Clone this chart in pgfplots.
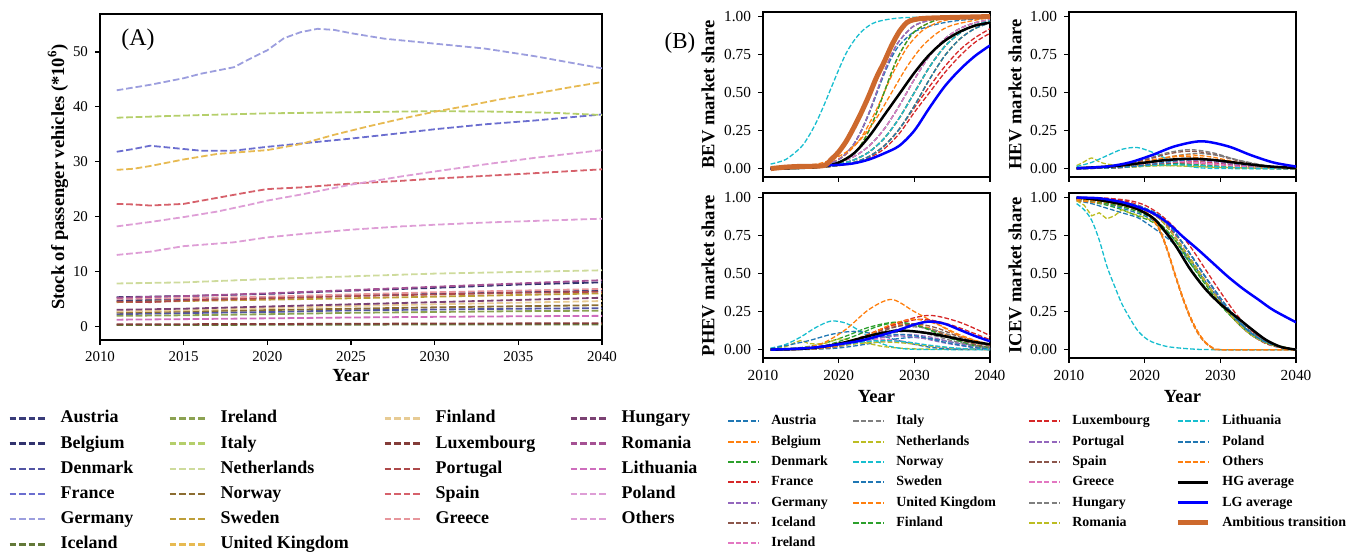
\documentclass[border=0pt]{standalone}
\usepackage{fontspec}
\setmainfont{Liberation Serif}
\usepackage{pgfplots}
\pgfplotsset{compat=1.18}
% panel A colours (tab20b sampled)
\definecolor{cA1}{HTML}{393B79}
\definecolor{cA2}{HTML}{31336E}
\definecolor{cA3}{HTML}{5254A3}
\definecolor{cA4}{HTML}{6B6ECF}
\definecolor{cA5}{HTML}{9C9EDE}
\definecolor{cA6}{HTML}{637939}
\definecolor{cA7}{HTML}{8CA252}
\definecolor{cA8}{HTML}{B5CF6B}
\definecolor{cA9}{HTML}{CEDB9C}
\definecolor{cA10}{HTML}{8C6D31}
\definecolor{cA11}{HTML}{BD9E39}
\definecolor{cA12}{HTML}{E7BA52}
\definecolor{cA13}{HTML}{E7CB94}
\definecolor{cA14}{HTML}{843C39}
\definecolor{cA15}{HTML}{AD494A}
\definecolor{cA16}{HTML}{D6616B}
\definecolor{cA17}{HTML}{E7969C}
\definecolor{cA18}{HTML}{7B4173}
\definecolor{cA19}{HTML}{A55194}
\definecolor{cA20}{HTML}{CE6DBD}
\definecolor{cA21}{HTML}{DE9ED6}
\definecolor{cA22}{HTML}{DE9ED6}
% panel B colours (tab10)
\definecolor{tBlue}{HTML}{1F77B4}
\definecolor{tOrange}{HTML}{FF7F0E}
\definecolor{tGreen}{HTML}{2CA02C}
\definecolor{tRed}{HTML}{D62728}
\definecolor{tPurple}{HTML}{9467BD}
\definecolor{tBrown}{HTML}{8C564B}
\definecolor{tPink}{HTML}{E377C2}
\definecolor{tGray}{HTML}{7F7F7F}
\definecolor{tOlive}{HTML}{BCBD22}
\definecolor{tCyan}{HTML}{17BECF}
\definecolor{amb}{RGB}{205,105,45}
\tikzset{
 dA/.style={line width=0.9bp, dash pattern=on 3.3bp off 1.45bp},
 dB/.style={line width=0.65bp, dash pattern=on 2.4bp off 1.05bp},
 lA/.style={line width=1.15bp, dash pattern=on 3.3bp off 1.5bp},
 lB/.style={line width=1bp, dash pattern=on 2.6bp off 1.1bp},
 hg/.style={black, line width=1.25bp, solid},
 lg/.style={blue, line width=1.25bp, solid},
 am/.style={amb, line width=2.5bp, solid},
}
\newcommand\pa[2]{\addplot[dA,#1] coordinates {#2};}
\newcommand\pb[2]{\addplot[dB,smooth,tension=0.5,#1] coordinates {#2};}
\pgfplotsset{
 common/.style={scale only axis, tick pos=left, tick align=outside, major tick length=2.5bp,
   /pgf/number format/1000 sep={}, /pgf/number format/assume math mode=true,
   clip mode=individual, label style={font=\bfseries\fontsize{9.3}{10}\selectfont}},
 Bax/.style={common, width=113.5bp, height=82.5bp, xmin=2010, xmax=2040, ymin=-0.055, ymax=1.03,
   xtick={2010,2020,2030,2040}, ytick={0,0.25,0.5,0.75,1},
   yticklabel style={/pgf/number format/.cd, fixed, fixed zerofill, precision=2},
   tick label style={font=\fontsize{7.7}{8}\selectfont},
   axis line style={line width=0.7bp}, tick style={line width=0.6bp, black}},
 legA/.style={hide axis, scale only axis, width=5bp, height=5bp, xmin=0, xmax=1, ymin=0, ymax=1,
   anchor=north west, legend cell align=left,
   legend style={at={(0,1)}, anchor=north west, draw=none, fill=none, inner sep=0pt,
     row sep=4.5bp, column sep=6.5bp, font=\bfseries\fontsize{9}{10}\selectfont,
     nodes={inner sep=0pt, text height=6.3bp, text depth=1.8bp}},
   legend image code/.code={\draw[##1] (0bp,0bp) -- (18.5bp,0bp);}},
 legB/.style={hide axis, scale only axis, width=5bp, height=5bp, xmin=0, xmax=1, ymin=0, ymax=1,
   anchor=north west, legend cell align=left,
   legend style={at={(0,1)}, anchor=north west, draw=none, fill=none, inner sep=0pt,
     row sep=3.65bp, column sep=6bp, font=\bfseries\fontsize{7}{8}\selectfont,
     nodes={inner sep=0pt, text height=5bp, text depth=1.5bp}},
   legend image code/.code={\draw[##1] (0bp,0bp) -- (15bp,0bp);}},
}
\begin{document}
\begin{tikzpicture}
\path[use as bounding box] (0,0) rectangle (678bp,276.5bp);

% ================= Panel A =================
\begin{axis}[common, at={(50bp,106.5bp)}, anchor=south west, width=251bp, height=163bp,
  xmin=2010, xmax=2040, ymin=-2.5, ymax=56.9,
  xtick={2010,2015,2020,2025,2030,2035,2040}, ytick={0,10,20,30,40,50},
  tick label style={font=\fontsize{7.5}{8}\selectfont},
  axis line style={line width=1bp}, tick style={line width=0.7bp, black},
  xlabel={Year}, ylabel={Stock of passenger vehicles (*10\textsuperscript{6})},
  xlabel style={at={(axis description cs:0.5,-0.110)}, anchor=center},
  ylabel style={at={(axis description cs:-0.0837,0.5)}, anchor=center}]
\pa{cA1}{(2011,4.7)(2015,4.9)(2020,5.2)(2025,5.6)(2030,5.9)(2035,6.2)(2040,6.5)}
\pa{cA2}{(2011,5.3)(2015,5.5)(2020,5.9)(2025,6.5)(2030,7.0)(2035,7.6)(2040,8.0)}
\pa{cA3}{(2011,2.2)(2015,2.4)(2020,2.6)(2025,2.9)(2030,3.05)(2035,3.2)(2040,3.3)}
\pa{cA4}{(2011,31.8)(2012,32.3)(2013,32.9)(2014,32.6)(2016,32.0)(2018,32.0)(2020,32.7)(2022,33.3)(2025,34.2)(2028,35.2)(2030,35.9)(2033,36.8)(2036,37.5)(2040,38.6)}
\pa{cA5}{(2011,43.0)(2013,44.0)(2015,45.2)(2016,46.0)(2018,47.2)(2019,48.8)(2020,50.3)(2021,52.5)(2022,53.6)(2023,54.2)(2024,54.0)(2025,53.4)(2027,52.4)(2030,51.5)(2033,50.6)(2036,49.2)(2040,47.0)}
\pa{cA6}{(2011,0.22)(2020,0.27)(2030,0.32)(2040,0.35)}
\pa{cA7}{(2011,1.9)(2015,2.0)(2020,2.2)(2025,2.45)(2030,2.6)(2035,2.75)(2040,2.85)}
\pa{cA8}{(2011,38.0)(2015,38.4)(2020,38.8)(2025,39.0)(2030,39.2)(2034,39.1)(2037,38.9)(2040,38.5)}
\pa{cA9}{(2011,7.8)(2015,8.0)(2020,8.6)(2025,9.1)(2030,9.6)(2035,9.9)(2040,10.2)}
\pa{cA10}{(2011,2.5)(2015,2.7)(2020,2.95)(2025,3.2)(2030,3.45)(2035,3.65)(2040,3.85)}
\pa{cA11}{(2011,4.4)(2015,4.6)(2020,4.85)(2025,5.1)(2030,5.4)(2035,5.7)(2040,6.0)}
\pa{cA12}{(2011,28.5)(2012,28.7)(2013,29.2)(2015,30.4)(2017,31.4)(2020,32.1)(2022,33.2)(2024,34.9)(2026,36.4)(2028,37.8)(2030,39.1)(2032,40.2)(2034,41.4)(2036,42.4)(2038,43.5)(2040,44.5)}
\pa{cA13}{(2011,2.7)(2015,2.9)(2020,3.3)(2025,3.7)(2030,4.0)(2035,4.3)(2040,4.6)}
\pa{cA14}{(2011,0.35)(2020,0.42)(2030,0.5)(2040,0.55)}
\pa{cA15}{(2011,4.5)(2013,4.4)(2015,4.7)(2020,5.1)(2025,5.5)(2030,5.8)(2035,6.1)(2040,6.3)}
\pa{cA16}{(2011,22.3)(2012,22.2)(2013,22.0)(2015,22.3)(2017,23.4)(2019,24.5)(2020,25.0)(2022,25.3)(2025,26.0)(2028,26.5)(2030,26.9)(2033,27.4)(2036,27.9)(2040,28.6)}
\pa{cA17}{(2011,5.0)(2015,5.1)(2020,5.4)(2025,5.8)(2030,6.2)(2035,6.5)(2040,6.8)}
\pa{cA18}{(2011,3.0)(2015,3.2)(2020,3.6)(2025,4.0)(2030,4.4)(2035,4.8)(2040,5.2)}
\pa{cA19}{(2011,5.2)(2015,5.5)(2020,6.0)(2025,6.6)(2030,7.2)(2035,7.8)(2040,8.4)}
\pa{cA20}{(2011,1.2)(2015,1.3)(2020,1.45)(2025,1.6)(2030,1.72)(2035,1.82)(2040,1.9)}
\pa{cA21}{(2011,18.2)(2013,19.0)(2015,19.9)(2017,20.9)(2019,22.2)(2020,22.9)(2022,24.0)(2025,25.8)(2028,27.3)(2030,28.2)(2033,29.5)(2036,30.7)(2040,32.1)}
\pa{cA22}{(2011,13.0)(2013,13.6)(2015,14.6)(2018,15.3)(2020,16.2)(2022,16.8)(2025,17.6)(2028,18.2)(2030,18.5)(2033,18.9)(2036,19.2)(2040,19.6)}
\node[font=\fontsize{12}{14}\selectfont] at (axis description cs:0.0757,0.92) {(A)};
\end{axis}

% ================= BEV =================
\begin{axis}[Bax, at={(381.5bp,188bp)}, anchor=south west, xticklabels={,,,},
  ylabel={BEV market share}, ylabel style={at={(axis description cs:-0.242,0.5)}, anchor=center}]
\pb{tBlue}{(2011,0.0018)(2015,0.0074)(2018,0.021)(2020,0.041)(2022,0.079)(2024,0.148)(2026,0.259)(2028,0.413)(2030,0.587)(2032,0.741)(2034,0.852)(2036,0.921)(2038,0.959)(2040,0.979)}
\pb{tOrange}{(2011,0)(2015,0.002)(2018,0.012)(2020,0.036)(2021,0.06)(2022,0.1)(2023,0.161)(2024,0.25)(2025,0.366)(2026,0.5)(2027,0.634)(2028,0.75)(2030,0.9)(2033,0.979)(2036,0.996)(2040,1)}
\pb{tGreen}{(2011,0)(2015,0.004)(2018,0.021)(2020,0.06)(2021,0.1)(2022,0.161)(2023,0.25)(2024,0.366)(2025,0.5)(2026,0.634)(2027,0.75)(2028,0.839)(2030,0.94)(2033,0.988)(2036,0.998)(2040,1)}
\pb{tRed}{(2011,0)(2015,0.005)(2018,0.01)(2020,0.02)(2022,0.035)(2024,0.07)(2026,0.13)(2028,0.23)(2030,0.37)(2032,0.5)(2034,0.63)(2036,0.74)(2038,0.83)(2040,0.89)}
\pb{tPurple}{(2011,0.0013)(2015,0.0052)(2018,0.0148)(2020,0.029)(2022,0.057)(2024,0.109)(2026,0.198)(2028,0.332)(2030,0.5)(2032,0.668)(2034,0.802)(2036,0.891)(2038,0.943)(2040,0.971)}
\pb{tBrown}{(2011,0.0013)(2015,0.0052)(2018,0.0148)(2020,0.029)(2022,0.057)(2024,0.109)(2026,0.198)(2028,0.332)(2030,0.5)(2032,0.668)(2034,0.802)(2036,0.891)(2038,0.943)(2040,0.971)}
\pb{tPink}{(2011,0)(2015,0.004)(2018,0.021)(2020,0.06)(2021,0.1)(2022,0.161)(2023,0.25)(2024,0.366)(2025,0.5)(2026,0.634)(2027,0.75)(2028,0.839)(2030,0.94)(2033,0.988)(2036,0.998)(2040,1)}
\pb{tGray}{(2011,0.0018)(2015,0.0074)(2018,0.021)(2020,0.041)(2022,0.079)(2024,0.148)(2026,0.259)(2028,0.413)(2030,0.587)(2032,0.741)(2034,0.852)(2036,0.921)(2038,0.959)(2040,0.979)}
\pb{tOlive}{(2011,0.0013)(2015,0.0052)(2018,0.0148)(2020,0.029)(2022,0.057)(2024,0.109)(2026,0.198)(2028,0.332)(2030,0.5)(2032,0.668)(2034,0.802)(2036,0.891)(2038,0.943)(2040,0.971)}
\pb{tCyan}{(2011,0.03)(2013,0.06)(2015,0.14)(2016,0.21)(2017,0.3)(2018,0.41)(2019,0.53)(2020,0.65)(2021,0.76)(2022,0.84)(2023,0.9)(2024,0.94)(2025,0.965)(2027,0.985)(2030,0.995)(2040,1)}
\pb{tBlue}{(2011,0)(2015,0.004)(2018,0.021)(2020,0.06)(2021,0.1)(2022,0.16)(2023,0.25)(2024,0.36)(2025,0.49)(2026,0.62)(2027,0.73)(2028,0.81)(2030,0.9)(2033,0.95)(2036,0.975)(2040,0.99)}
\pb{tOrange}{(2011,0.0012)(2014,0.0045)(2017,0.017)(2019,0.041)(2021,0.095)(2023,0.206)(2025,0.389)(2027,0.611)(2029,0.794)(2031,0.905)(2033,0.959)(2035,0.983)(2039,0.997)(2040,0.998)}
\pb{tGreen}{(2011,0)(2015,0.002)(2018,0.012)(2020,0.036)(2021,0.06)(2022,0.1)(2023,0.161)(2024,0.25)(2025,0.366)(2026,0.5)(2027,0.634)(2028,0.75)(2030,0.9)(2033,0.979)(2036,0.996)(2040,1)}
\pb{tRed}{(2011,0)(2015,0.005)(2018,0.01)(2020,0.02)(2022,0.04)(2024,0.08)(2026,0.15)(2028,0.26)(2030,0.4)(2032,0.54)(2034,0.67)(2036,0.78)(2038,0.86)(2040,0.92)}
\pb{tPurple}{(2011,0)(2015,0.004)(2018,0.021)(2020,0.06)(2021,0.1)(2022,0.161)(2023,0.25)(2024,0.366)(2025,0.5)(2026,0.634)(2027,0.75)(2028,0.839)(2030,0.94)(2033,0.988)(2036,0.998)(2040,1)}
\pb{tBrown}{(2011,0.0009)(2015,0.0037)(2018,0.0105)(2020,0.021)(2022,0.041)(2024,0.079)(2026,0.148)(2028,0.259)(2030,0.413)(2032,0.587)(2034,0.741)(2036,0.852)(2038,0.921)(2040,0.959)}
\pb{tPink}{(2011,0.0018)(2015,0.0074)(2018,0.021)(2020,0.041)(2022,0.079)(2024,0.148)(2026,0.259)(2028,0.413)(2030,0.587)(2032,0.741)(2034,0.852)(2036,0.921)(2038,0.959)(2040,0.979)}
\pb{tGray}{(2011,0.0013)(2015,0.0052)(2018,0.0148)(2020,0.029)(2022,0.057)(2024,0.109)(2026,0.198)(2028,0.332)(2030,0.5)(2032,0.668)(2034,0.802)(2036,0.891)(2038,0.943)(2040,0.971)}
\pb{tOlive}{(2011,0.0009)(2015,0.0037)(2018,0.0105)(2020,0.021)(2022,0.041)(2024,0.079)(2026,0.148)(2028,0.259)(2030,0.413)(2032,0.587)(2034,0.741)(2036,0.852)(2038,0.921)(2040,0.959)}
\pb{tCyan}{(2011,0.0013)(2015,0.0052)(2018,0.0148)(2020,0.029)(2022,0.057)(2024,0.109)(2026,0.198)(2028,0.332)(2030,0.5)(2032,0.668)(2034,0.802)(2036,0.891)(2038,0.943)(2040,0.971)}
\pb{tBlue}{(2011,0.0009)(2015,0.0037)(2018,0.0105)(2020,0.021)(2022,0.041)(2024,0.079)(2026,0.148)(2028,0.259)(2030,0.413)(2032,0.587)(2034,0.741)(2036,0.852)(2038,0.921)(2040,0.959)}
\pb{tOrange}{(2011,0.0037)(2014,0.0105)(2017,0.029)(2019,0.057)(2021,0.109)(2023,0.198)(2025,0.332)(2027,0.5)(2029,0.668)(2031,0.802)(2033,0.891)(2035,0.943)(2039,0.985)(2040,0.99)}
\addplot[hg,smooth,tension=0.5] coordinates {(2011,0)(2014,0.003)(2016,0.007)(2018,0.015)(2020,0.04)(2022,0.1)(2024,0.21)(2026,0.35)(2028,0.49)(2030,0.63)(2032,0.75)(2034,0.84)(2036,0.9)(2038,0.94)(2040,0.96)};
\addplot[lg,smooth,tension=0.5] coordinates {(2011,0)(2013,0.005)(2015,0.015)(2018,0.022)(2020,0.025)(2022,0.035)(2024,0.06)(2026,0.1)(2028,0.15)(2030,0.25)(2032,0.4)(2034,0.54)(2036,0.65)(2038,0.74)(2040,0.81)};
\addplot[am,smooth,tension=0.5] coordinates {(2011,0)(2013,0.01)(2015,0.015)(2018,0.02)(2019,0.06)(2020,0.11)(2021,0.18)(2022,0.27)(2023,0.37)(2024,0.48)(2025,0.6)(2026,0.7)(2027,0.81)(2028,0.9)(2029,0.96)(2030,0.98)(2032,0.99)(2040,1)};
\node[font=\fontsize{11.5}{13}\selectfont] at (axis description cs:-0.366,0.812) {(B)};
\end{axis}

% ================= HEV =================
\begin{axis}[Bax, at={(534.5bp,188bp)}, anchor=south west, xticklabels={,,,},
  ylabel={HEV market share}, ylabel style={at={(axis description cs:-0.238,0.5)}, anchor=center}]
\pb{tBlue}{(2011,0.0004)(2016,0.0054)(2020,0.0195)(2023,0.0334)(2026,0.04)(2029,0.0334)(2032,0.0195)(2036,0.0054)(2040,0.0008)}
\pb{tOrange}{(2011,0.0016)(2015,0.0108)(2019,0.039)(2022,0.0668)(2025,0.08)(2028,0.0668)(2031,0.039)(2035,0.0108)(2040,0.0009)}
\pb{tGreen}{(2011,0.0027)(2012,0.004)(2016,0.0146)(2019,0.025)(2022,0.03)(2025,0.025)(2028,0.0146)(2032,0.004)(2036,0.0006)(2040,0)}
\pb{tRed}{(2011,0.0004)(2016,0.0047)(2020,0.017)(2023,0.029)(2026,0.035)(2029,0.029)(2032,0.017)(2036,0.0047)(2040,0.0007)}
\pb{tPurple}{(2011,0.0006)(2016,0.0068)(2020,0.0244)(2023,0.0418)(2026,0.05)(2029,0.0418)(2032,0.0244)(2036,0.0068)(2040,0.001)}
\pb{tBrown}{(2011,0.0007)(2016,0.0081)(2020,0.0292)(2023,0.0501)(2026,0.06)(2029,0.0501)(2032,0.0292)(2036,0.0081)(2040,0.0012)}
\pb{tPink}{(2011,0.0014)(2014,0.0054)(2018,0.0195)(2021,0.0334)(2024,0.04)(2027,0.0334)(2030,0.0195)(2034,0.0054)(2040,0.0002)}
\pb{tGray}{(2011,0.0014)(2016,0.0169)(2020,0.0609)(2023,0.1044)(2026,0.125)(2029,0.1044)(2032,0.0609)(2036,0.0169)(2040,0.0025)}
\pb{tOlive}{(2011,0.02)(2012,0.045)(2013,0.07)(2014,0.045)(2015,0.03)(2017,0.02)(2020,0.02)(2023,0.02)(2026,0.015)(2030,0.008)(2035,0.003)(2040,0.001)}
\pb{tCyan}{(2011,0.014)(2013,0.041)(2015,0.085)(2017,0.127)(2019,0.139)(2021,0.108)(2023,0.062)(2025,0.025)(2027,0.007)(2030,0.0006)(2040,0)}
\pb{tBlue}{(2011,0.0031)(2012,0.0047)(2016,0.017)(2019,0.029)(2022,0.035)(2025,0.029)(2028,0.017)(2032,0.0047)(2036,0.0007)(2040,0)}
\pb{tOrange}{(2011,0.001)(2015,0.0068)(2019,0.0244)(2022,0.0418)(2025,0.05)(2028,0.0418)(2031,0.0244)(2035,0.0068)(2040,0.0006)}
\pb{tGreen}{(2011,0.001)(2014,0.004)(2018,0.0146)(2021,0.025)(2024,0.03)(2027,0.025)(2030,0.0146)(2034,0.004)(2040,0.0002)}
\pb{tRed}{(2011,0.0005)(2016,0.0061)(2020,0.0219)(2023,0.0376)(2026,0.045)(2029,0.0376)(2032,0.0219)(2036,0.0061)(2040,0.0009)}
\pb{tPurple}{(2011,0.0006)(2016,0.0074)(2020,0.0268)(2023,0.0459)(2026,0.055)(2029,0.0459)(2032,0.0268)(2036,0.0074)(2040,0.0011)}
\pb{tBrown}{(2011,0.0013)(2016,0.0155)(2020,0.056)(2023,0.096)(2026,0.115)(2029,0.096)(2032,0.056)(2036,0.0155)(2040,0.0023)}
\pb{tPink}{(2011,0.0009)(2015,0.0061)(2019,0.0219)(2022,0.0376)(2025,0.045)(2028,0.0376)(2031,0.0219)(2035,0.0061)(2040,0.0005)}
\pb{tGray}{(2011,0.0006)(2013,0.002)(2017,0.0135)(2021,0.0487)(2024,0.0835)(2027,0.1)(2030,0.0835)(2033,0.0487)(2037,0.0135)(2040,0.0034)}
\pb{tOlive}{(2011,0.0007)(2014,0.0027)(2018,0.0097)(2021,0.0167)(2024,0.02)(2027,0.0167)(2030,0.0097)(2034,0.0027)(2040,0.0001)}
\pb{tCyan}{(2011,0.0009)(2014,0.0034)(2018,0.0122)(2021,0.0209)(2024,0.025)(2027,0.0209)(2030,0.0122)(2034,0.0034)(2040,0.0002)}
\pb{tBlue}{(2011,0.0004)(2013,0.0012)(2017,0.0081)(2021,0.0292)(2024,0.0501)(2027,0.06)(2030,0.0501)(2033,0.0292)(2037,0.0081)(2040,0.002)}
\pb{tOrange}{(2011,0.001)(2016,0.0122)(2020,0.0438)(2023,0.0752)(2026,0.09)(2029,0.0752)(2032,0.0438)(2036,0.0122)(2040,0.0018)}
\addplot[hg,smooth,tension=0.5] coordinates {(2011,0.0029)(2016,0.0163)(2020,0.0395)(2023,0.0573)(2026,0.065)(2029,0.0573)(2032,0.0395)(2036,0.0163)(2040,0.0043)};
\addplot[lg,smooth,tension=0.5] coordinates {(2011,0.002)(2015,0.0137)(2018,0.0405)(2021,0.0895)(2024,0.147)(2027.5,0.18)(2031,0.147)(2034,0.0895)(2037,0.0405)(2040,0.0137)};
\end{axis}

% ================= PHEV =================
\begin{axis}[Bax, at={(381.5bp,97.5bp)}, anchor=south west,
  xlabel={Year}, xlabel style={at={(axis description cs:0.5,-0.236)}, anchor=center},
  ylabel={PHEV market share}, ylabel style={at={(axis description cs:-0.242,0.5)}, anchor=center}]
\pb{tBlue}{(2011,0.0001)(2016,0.0016)(2020,0.0108)(2024,0.039)(2027,0.0668)(2030,0.08)(2033,0.0668)(2036,0.039)(2040,0.0108)}
\pb{tOrange}{(2011,0.0003)(2015,0.0034)(2019,0.023)(2023,0.0828)(2026,0.142)(2029,0.17)(2032,0.142)(2035,0.0828)(2039,0.023)(2040,0.0151)}
\pb{tGreen}{(2011,0.002)(2015,0.0137)(2018,0.0405)(2021,0.0895)(2024,0.147)(2027.5,0.18)(2031,0.147)(2034,0.0895)(2037,0.0405)(2040,0.0137)}
\pb{tRed}{(2011,0.0005)(2016,0.0063)(2020,0.0304)(2024,0.0923)(2028,0.18)(2032,0.225)(2036,0.18)(2040,0.0923)}
\pb{tPurple}{(2011,0.0002)(2015,0.002)(2019,0.0135)(2023,0.0487)(2026,0.0835)(2029,0.1)(2032,0.0835)(2035,0.0487)(2039,0.0135)(2040,0.0089)}
\pb{tBrown}{(2011,0.0002)(2015,0.0032)(2019,0.0216)(2023,0.0779)(2026,0.1336)(2029,0.16)(2032,0.1336)(2035,0.0779)(2039,0.0216)(2040,0.0142)}
\pb{tPink}{(2011,0.0012)(2015,0.0081)(2019,0.0292)(2022,0.0501)(2025,0.06)(2028,0.0501)(2031,0.0292)(2035,0.0081)(2040,0.0007)}
\pb{tGray}{(2011,0.0001)(2016,0.003)(2020,0.0203)(2024,0.073)(2027,0.125)(2030,0.15)(2033,0.125)(2036,0.073)(2040,0.0203)}
\pb{tOlive}{(2011,0)(2013,0.02)(2015,0.06)(2016,0.04)(2018,0.04)(2020,0.07)(2022,0.06)(2024,0.04)(2026,0.02)(2030,0.005)(2040,0)}
\pb{tCyan}{(2011,0.0099)(2013,0.0342)(2015,0.0836)(2017,0.146)(2019,0.188)(2021,0.173)(2023,0.116)(2025,0.0551)(2027,0.019)(2030,0.0021)(2040,0)}
\pb{tBlue}{(2011,0.003)(2012,0.0162)(2016,0.0584)(2019,0.1)(2022,0.12)(2025,0.1)(2028,0.0584)(2032,0.0162)(2036,0.0024)(2040,0.0002)}
\pb{tOrange}{(2011,0.0006)(2015,0.0092)(2018,0.0446)(2021,0.135)(2024,0.264)(2027,0.33)(2030,0.25)(2033,0.17)(2036,0.09)(2040,0.035)}
\pb{tGreen}{(2011,0.0005)(2014,0.0036)(2018,0.0243)(2022,0.0877)(2025,0.15)(2028,0.18)(2031,0.15)(2034,0.0877)(2038,0.0243)(2040,0.0101)}
\pb{tRed}{(2011,0.0008)(2015,0.0056)(2019,0.027)(2023,0.082)(2027,0.16)(2031,0.2)(2035,0.16)(2040,0.065)}
\pb{tPurple}{(2011,0.0003)(2014,0.0018)(2018,0.0122)(2022,0.0438)(2025,0.0752)(2028,0.09)(2031,0.0752)(2034,0.0438)(2038,0.0122)(2040,0.005)}
\pb{tBrown}{(2011,0.0001)(2016,0.0034)(2020,0.023)(2024,0.0828)(2027,0.142)(2030,0.17)(2033,0.142)(2036,0.0828)(2040,0.023)}
\pb{tPink}{(2011,0.0014)(2015,0.0095)(2019,0.0341)(2022,0.0585)(2025,0.07)(2028,0.0585)(2031,0.0341)(2035,0.0095)(2040,0.0008)}
\pb{tGray}{(2011,0.0002)(2015,0.0024)(2019,0.0162)(2023,0.0584)(2026,0.1)(2029,0.12)(2032,0.1)(2035,0.0584)(2039,0.0162)(2040,0.0107)}
\pb{tOlive}{(2011,0.0006)(2016,0.0068)(2020,0.0244)(2023,0.0418)(2026,0.05)(2029,0.0418)(2032,0.0244)(2036,0.0068)(2040,0.001)}
\pb{tCyan}{(2011,0.0007)(2016,0.0081)(2020,0.0292)(2023,0.0501)(2026,0.06)(2029,0.0501)(2032,0.0292)(2036,0.0081)(2040,0.0012)}
\pb{tBlue}{(2011,0.0003)(2014,0.002)(2018,0.0135)(2022,0.0487)(2025,0.0835)(2028,0.1)(2031,0.0835)(2034,0.0487)(2038,0.0135)(2040,0.0056)}
\pb{tOrange}{(2011,0.0001)(2016,0.004)(2020,0.027)(2024,0.0974)(2027,0.167)(2030,0.2)(2033,0.167)(2036,0.0974)(2040,0.027)}
\addplot[hg,smooth,tension=0.5] coordinates {(2011,0)(2015,0.005)(2018,0.02)(2021,0.05)(2024,0.09)(2026,0.112)(2028,0.125)(2030,0.12)(2032,0.107)(2034,0.088)(2036,0.068)(2038,0.05)(2040,0.035)};
\addplot[lg,smooth,tension=0.5] coordinates {(2011,0)(2014,0.005)(2017,0.015)(2020,0.035)(2023,0.06)(2026,0.1)(2028,0.13)(2030,0.165)(2032,0.185)(2034,0.17)(2036,0.13)(2038,0.09)(2040,0.055)};
\end{axis}

% ================= ICEV =================
\begin{axis}[Bax, at={(534.5bp,97.5bp)}, anchor=south west,
  xlabel={Year}, xlabel style={at={(axis description cs:0.5,-0.236)}, anchor=center},
  ylabel={ICEV market share}, ylabel style={at={(axis description cs:-0.238,0.5)}, anchor=center}]
\pb{tBlue}{(2011,0.98)(2013,0.96)(2015,0.93)(2017,0.9)(2019,0.87)(2020,0.84)(2022,0.77)(2024,0.69)(2026,0.57)(2028,0.44)(2030,0.32)(2032,0.21)(2034,0.12)(2036,0.06)(2038,0.02)(2040,0)}
\pb{tOrange}{(2011,0.99)(2015,0.97)(2018,0.94)(2020,0.91)(2021,0.87)(2022,0.79)(2023,0.66)(2024,0.5)(2025,0.35)(2026,0.22)(2027,0.12)(2028,0.05)(2029,0.012)(2030,0)(2040,0)}
\pb{tGreen}{(2011,0.99)(2013,0.97)(2015,0.95)(2017,0.92)(2019,0.88)(2021,0.84)(2023,0.76)(2025,0.61)(2027,0.47)(2029,0.35)(2031,0.24)(2033,0.15)(2035,0.08)(2037,0.035)(2040,0)}
\pb{tRed}{(2011,1)(2015,0.995)(2018,0.97)(2020,0.93)(2022,0.86)(2024,0.76)(2026,0.63)(2028,0.48)(2030,0.33)(2032,0.19)(2034,0.1)(2036,0.04)(2038,0.012)(2040,0)}
\pb{tPurple}{(2011,0.99)(2015,0.97)(2018,0.95)(2020,0.92)(2022,0.86)(2024,0.74)(2026,0.6)(2028,0.45)(2030,0.31)(2032,0.19)(2034,0.1)(2036,0.045)(2038,0.015)(2040,0)}
\pb{tBrown}{(2011,1)(2015,0.98)(2018,0.96)(2020,0.93)(2022,0.88)(2024,0.77)(2026,0.63)(2028,0.48)(2030,0.34)(2032,0.21)(2034,0.11)(2036,0.05)(2038,0.017)(2040,0)}
\pb{tPink}{(2011,0.99)(2015,0.97)(2018,0.95)(2020,0.92)(2022,0.86)(2024,0.74)(2026,0.6)(2028,0.45)(2030,0.31)(2032,0.19)(2034,0.1)(2036,0.045)(2038,0.015)(2040,0)}
\pb{tGray}{(2011,0.98)(2015,0.96)(2018,0.93)(2020,0.9)(2021,0.86)(2022,0.78)(2023,0.65)(2024,0.49)(2025,0.34)(2026,0.21)(2027,0.11)(2028,0.045)(2029,0.01)(2030,0)(2040,0)}
\addplot[dB,tOlive] coordinates {(2011,0.98)(2012,0.95)(2013,0.88)(2014,0.9)(2015,0.86)(2016,0.88)(2017,0.92)(2018,0.9)(2020,0.87)(2022,0.82)(2024,0.72)(2026,0.58)(2028,0.44)(2030,0.31)(2032,0.2)(2034,0.11)(2036,0.05)(2038,0.02)(2040,0)};
\pb{tCyan}{(2011,0.96)(2012,0.92)(2013,0.85)(2014,0.72)(2015,0.55)(2016,0.42)(2017,0.3)(2018,0.21)(2019,0.13)(2020,0.08)(2021,0.05)(2023,0.02)(2026,0.005)(2029,0)(2040,0)}
\pb{tBlue}{(2011,0.99)(2014,0.97)(2017,0.93)(2020,0.88)(2022,0.82)(2024,0.72)(2026,0.59)(2028,0.45)(2030,0.32)(2032,0.2)(2034,0.11)(2036,0.05)(2038,0.015)(2040,0)}
\pb{tOrange}{(2011,0.98)(2015,0.96)(2018,0.93)(2020,0.9)(2021,0.86)(2022,0.78)(2023,0.65)(2024,0.49)(2025,0.34)(2026,0.21)(2027,0.11)(2028,0.045)(2029,0.01)(2030,0)(2040,0)}
\pb{tGreen}{(2011,0.99)(2014,0.97)(2017,0.94)(2020,0.89)(2022,0.83)(2024,0.72)(2026,0.57)(2028,0.43)(2030,0.3)(2032,0.19)(2034,0.1)(2036,0.045)(2038,0.015)(2040,0)}
\pb{tRed}{(2011,1)(2015,0.995)(2018,0.98)(2020,0.95)(2022,0.89)(2024,0.8)(2026,0.68)(2028,0.53)(2030,0.38)(2032,0.24)(2034,0.13)(2036,0.06)(2038,0.02)(2040,0)}
\pb{tPurple}{(2011,1)(2015,0.98)(2018,0.96)(2020,0.93)(2022,0.88)(2024,0.77)(2026,0.63)(2028,0.48)(2030,0.34)(2032,0.21)(2034,0.11)(2036,0.05)(2038,0.017)(2040,0)}
\pb{tBrown}{(2011,0.99)(2015,0.97)(2018,0.95)(2020,0.92)(2022,0.86)(2024,0.74)(2026,0.6)(2028,0.45)(2030,0.31)(2032,0.19)(2034,0.1)(2036,0.045)(2038,0.015)(2040,0)}
\pb{tPink}{(2011,1)(2015,0.98)(2018,0.96)(2020,0.93)(2022,0.88)(2024,0.77)(2026,0.63)(2028,0.48)(2030,0.34)(2032,0.21)(2034,0.11)(2036,0.05)(2038,0.017)(2040,0)}
\pb{tGray}{(2011,0.99)(2015,0.97)(2018,0.95)(2020,0.92)(2022,0.86)(2024,0.74)(2026,0.6)(2028,0.45)(2030,0.31)(2032,0.19)(2034,0.1)(2036,0.045)(2038,0.015)(2040,0)}
\pb{tOlive}{(2011,0.99)(2015,0.97)(2018,0.95)(2020,0.92)(2022,0.86)(2024,0.74)(2026,0.6)(2028,0.45)(2030,0.31)(2032,0.19)(2034,0.1)(2036,0.045)(2038,0.015)(2040,0)}
\pb{tCyan}{(2011,1)(2015,0.98)(2018,0.96)(2020,0.93)(2022,0.88)(2024,0.77)(2026,0.63)(2028,0.48)(2030,0.34)(2032,0.21)(2034,0.11)(2036,0.05)(2038,0.017)(2040,0)}
\pb{tBlue}{(2011,1)(2015,0.98)(2018,0.96)(2020,0.93)(2022,0.88)(2024,0.77)(2026,0.63)(2028,0.48)(2030,0.34)(2032,0.21)(2034,0.11)(2036,0.05)(2038,0.017)(2040,0)}
\pb{tOrange}{(2011,0.99)(2015,0.97)(2018,0.94)(2020,0.91)(2021,0.87)(2022,0.79)(2023,0.66)(2024,0.5)(2025,0.35)(2026,0.22)(2027,0.12)(2028,0.05)(2029,0.012)(2030,0)(2040,0)}
\addplot[hg,smooth,tension=0.5] coordinates {(2011,1)(2013,0.99)(2015,0.975)(2017,0.955)(2019,0.925)(2021,0.87)(2022,0.82)(2024,0.69)(2026,0.53)(2028,0.4)(2030,0.3)(2032,0.22)(2034,0.14)(2036,0.065)(2038,0.018)(2040,0)};
\addplot[lg,smooth,tension=0.5] coordinates {(2011,1)(2014,0.995)(2017,0.97)(2019,0.94)(2021,0.9)(2023,0.835)(2025,0.745)(2027,0.66)(2029,0.57)(2031,0.48)(2033,0.4)(2035,0.33)(2037,0.26)(2040,0.18)};
\end{axis}

% ================= Legend A =================
\begin{axis}[legA, at={(4bp,71.55bp)}]
\addlegendimage{lA,cA1}\addlegendentry{Austria}
\addlegendimage{lA,cA2}\addlegendentry{Belgium}
\addlegendimage{lA,cA3}\addlegendentry{Denmark}
\addlegendimage{lA,cA4}\addlegendentry{France}
\addlegendimage{lA,cA5}\addlegendentry{Germany}
\addlegendimage{lA,cA6}\addlegendentry{Iceland}
\end{axis}
\begin{axis}[legA, at={(84bp,71.55bp)}]
\addlegendimage{lA,cA7}\addlegendentry{Ireland}
\addlegendimage{lA,cA8}\addlegendentry{Italy}
\addlegendimage{lA,cA9}\addlegendentry{Netherlands}
\addlegendimage{lA,cA10}\addlegendentry{Norway}
\addlegendimage{lA,cA11}\addlegendentry{Sweden}
\addlegendimage{lA,cA12}\addlegendentry{United Kingdom}
\end{axis}
\begin{axis}[legA, at={(191.5bp,71.55bp)}]
\addlegendimage{lA,cA13}\addlegendentry{Finland}
\addlegendimage{lA,cA14}\addlegendentry{Luxembourg}
\addlegendimage{lA,cA15}\addlegendentry{Portugal}
\addlegendimage{lA,cA16}\addlegendentry{Spain}
\addlegendimage{lA,cA17}\addlegendentry{Greece}
\end{axis}
\begin{axis}[legA, at={(284.5bp,71.55bp)}]
\addlegendimage{lA,cA18}\addlegendentry{Hungary}
\addlegendimage{lA,cA19}\addlegendentry{Romania}
\addlegendimage{lA,cA20}\addlegendentry{Lithuania}
\addlegendimage{lA,cA21}\addlegendentry{Poland}
\addlegendimage{lA,cA22}\addlegendentry{Others}
\end{axis}

% ================= Legend B =================
\begin{axis}[legB, at={(363.5bp,69.25bp)}]
\addlegendimage{lB,tBlue}\addlegendentry{Austria}
\addlegendimage{lB,tOrange}\addlegendentry{Belgium}
\addlegendimage{lB,tGreen}\addlegendentry{Denmark}
\addlegendimage{lB,tRed}\addlegendentry{France}
\addlegendimage{lB,tPurple}\addlegendentry{Germany}
\addlegendimage{lB,tBrown}\addlegendentry{Iceland}
\addlegendimage{lB,tPink}\addlegendentry{Ireland}
\end{axis}
\begin{axis}[legB, at={(426bp,69.25bp)}]
\addlegendimage{lB,tGray}\addlegendentry{Italy}
\addlegendimage{lB,tOlive}\addlegendentry{Netherlands}
\addlegendimage{lB,tCyan}\addlegendentry{Norway}
\addlegendimage{lB,tBlue}\addlegendentry{Sweden}
\addlegendimage{lB,tOrange}\addlegendentry{United Kingdom}
\addlegendimage{lB,tGreen}\addlegendentry{Finland}
\end{axis}
\begin{axis}[legB, at={(514bp,69.25bp)}]
\addlegendimage{lB,tRed}\addlegendentry{Luxembourg}
\addlegendimage{lB,tPurple}\addlegendentry{Portugal}
\addlegendimage{lB,tBrown}\addlegendentry{Spain}
\addlegendimage{lB,tPink}\addlegendentry{Greece}
\addlegendimage{lB,tGray}\addlegendentry{Hungary}
\addlegendimage{lB,tOlive}\addlegendentry{Romania}
\end{axis}
\begin{axis}[legB, at={(587.5bp,69.25bp)}]
\addlegendimage{lB,tCyan}\addlegendentry{Lithuania}
\addlegendimage{lB,tBlue}\addlegendentry{Poland}
\addlegendimage{lB,tOrange}\addlegendentry{Others}
\addlegendimage{hg}\addlegendentry{HG average}
\addlegendimage{lg}\addlegendentry{LG average}
\addlegendimage{am}\addlegendentry{Ambitious transition}
\end{axis}
\end{tikzpicture}
\end{document}
